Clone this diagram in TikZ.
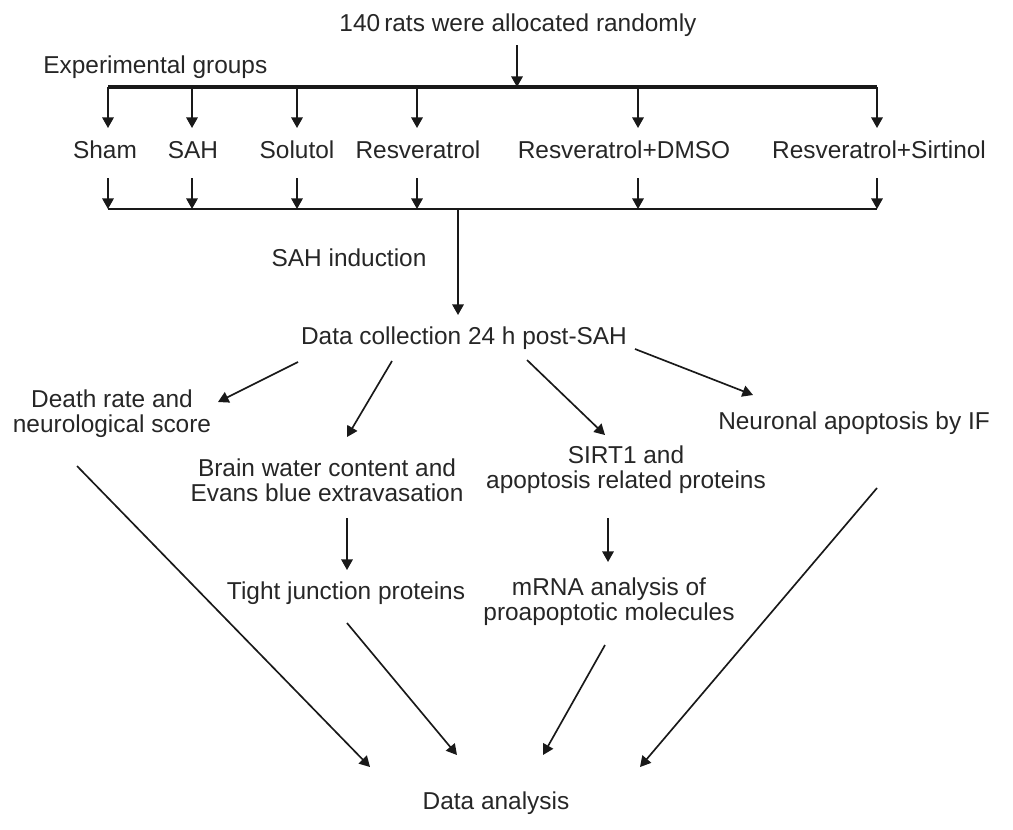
\documentclass[tikz,border=0pt]{standalone}
\usepackage{fontspec}
\setmainfont{Liberation Sans}
\usepackage{tikz}
\usetikzlibrary{arrows.meta,calc}
\tikzset{
  lbl/.style={inner sep=0pt, align=center, text=black!85,
    font=\fontsize{13.9}{14.2}\selectfont},
  arr/.style={-{Triangle[length=6pt, width=6.5pt]}, line width=0.95pt, black!90},
  topbar/.style={line width=1.9pt, black!90},
  lowbar/.style={line width=1.1pt, black!90},
}

\begin{document}
\begin{tikzpicture}[x=0.02cm, y=-0.02cm]
  \useasboundingbox (0,0) rectangle (1013,829);
  \node[lbl] (rats) at (518,25) {140\,rats were allocated randomly};
  \node[lbl, anchor=west] (exp) at (43,67) {Experimental groups};
  \coordinate (barT) at (108,87);
  \coordinate (barTr) at (877,87);
  \coordinate (barB) at (108,209);
  \coordinate (barBr) at (877,209);
  \coordinate (join) at (458,209);
  \draw[topbar] (barT) -- (barTr);
  \draw[lowbar] (barB) -- (barBr);
  \draw[arr] ($(rats.center)+(-1,20)$) -- ($(rats.center |- barT)+(-1,0)$);

  \node[lbl] (sham) at (105,150) {Sham};
  \node[lbl] (sah) at (193,150) {SAH};
  \node[lbl] (sol) at (297,150) {Solutol};
  \node[lbl] (res) at (418,150) {Resveratrol};
  \node[lbl] (dmso) at (624,150) {Resveratrol+DMSO};
  \node[lbl] (rsirt) at (879,150) {Resveratrol+Sirtinol};
  \foreach \n/\d in {sham/3, sah/-1, sol/0, res/-1, dmso/14, rsirt/-2}{
    \draw[arr] ($(\n.center |- barT)+(\d,0)$) -- ($(\n.center |- barT)+(\d,41)$);
    \draw[arr] ($(\n.center |- barB)+(\d,-31)$) -- ($(\n.center |- barB)+(\d,0)$);
  }

  \node[lbl] (sahind) at (349,258) {SAH induction};
  \node[lbl] (dc) at (464,338) {Data collection 24 h post-SAH};
  \draw[arr] (join) -- ($(dc.center)+(-6,-23)$);

  \node[lbl] (death) at (112,414) {Death rate and\\neurological score};
  \node[lbl] (brain) at (327,480) {Brain water content and\\Evans blue extravasation};
  \node[lbl] (sirt1) at (626,470) {SIRT1 and\\apoptosis related proteins};
  \node[lbl] (neur) at (854,423) {Neuronal apoptosis by IF};
  \node[lbl] (tight) at (346,593) {Tight junction proteins};
  \node[lbl] (mrna) at (609,602) {mRNA analysis of\\proapoptotic molecules};
  \node[lbl] (da) at (496,803) {Data analysis};

  \draw[arr] ($(dc.center)+(-166,24)$) -- ($(death.center)+(106,-12)$);
  \draw[arr] ($(dc.center)+(-72,23)$) -- ($(brain.center)+(20,-43)$);
  \draw[arr] ($(dc.center)+(63,22)$) -- ($(sirt1.center)+(-21,-35)$);
  \draw[arr] ($(dc.center)+(171,11)$) -- ($(neur.center)+(-101,-28)$);
  \draw[arr] ($(brain.center)+(20,38)$) -- ($(tight.center)+(1,-23)$);
  \draw[arr] ($(sirt1.center)+(-18,48)$) -- ($(mrna.center)+(-1,-40)$);

  \draw[arr] ($(death.center)+(-35,52)$) -- ($(da.center)+(-126,-36)$);
  \draw[arr] ($(tight.center)+(1,30)$) -- ($(da.center)+(-39,-48)$);
  \draw[arr] ($(mrna.center)+(-4,43)$) -- ($(da.center)+(47,-48)$);
  \draw[arr] ($(neur.center)+(23,65)$) -- ($(da.center)+(144,-36)$);
\end{tikzpicture}
\end{document}
